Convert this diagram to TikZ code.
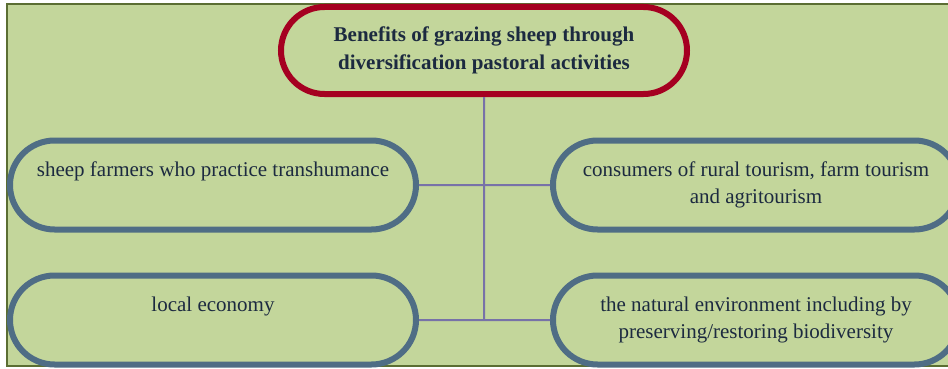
\documentclass[tikz,border=0pt]{standalone}
\usepackage{fontspec}
\setmainfont{Liberation Serif}
\usetikzlibrary{shapes.misc}
\definecolor{panelgreen}{HTML}{C3D69B}
\definecolor{panelframe}{HTML}{5B6E33}
\definecolor{headred}{HTML}{A50021}
\definecolor{nodeblue}{HTML}{4F6D85}
\definecolor{textnavy}{HTML}{1C2A40}
\definecolor{linkpurple}{HTML}{7772A8}

\begin{document}
\begin{tikzpicture}[x=1pt, y=1pt, node distance=135pt,
	main node/.style={rounded rectangle,draw=nodeblue,line width=6pt,fill=panelgreen,
		minimum width=406pt,minimum height=89pt,inner sep=0pt,align=center,text=textnavy,
		font=\fontsize{21}{27.5}\selectfont}]
	\clip (0,0) rectangle (948,-369);
	% green panel behind everything
	\draw[fill=panelgreen,draw=panelframe,line width=1.5pt] (7,-4) rectangle (980,-366);
	
	\node[main node,draw=headred,minimum height=87pt,font=\fontsize{21}{28}\selectfont\bfseries] (1) at (484,-50.5)
	{Benefits of grazing sheep through\\diversification pastoral activities};
	\node[main node] (2) at (213,-185) {\strut sheep farmers who practice transhumance\\\strut};
	\node[main node] (3) at (756,-185) {consumers of rural tourism, farm tourism\\and agritourism};
	\node[main node] (4) [below of=2] {\strut local economy\\\strut};
	\node[main node] (5) [below of=3] {the natural environment including by\\preserving/restoring biodiversity};
	
	\coordinate (bot) at (1.south |- 4.east);
	\path[draw=linkpurple,line width=2pt]
	(1) edge (bot)
	(2) edge (3)
	(4) edge (5);
\end{tikzpicture}
\end{document}
